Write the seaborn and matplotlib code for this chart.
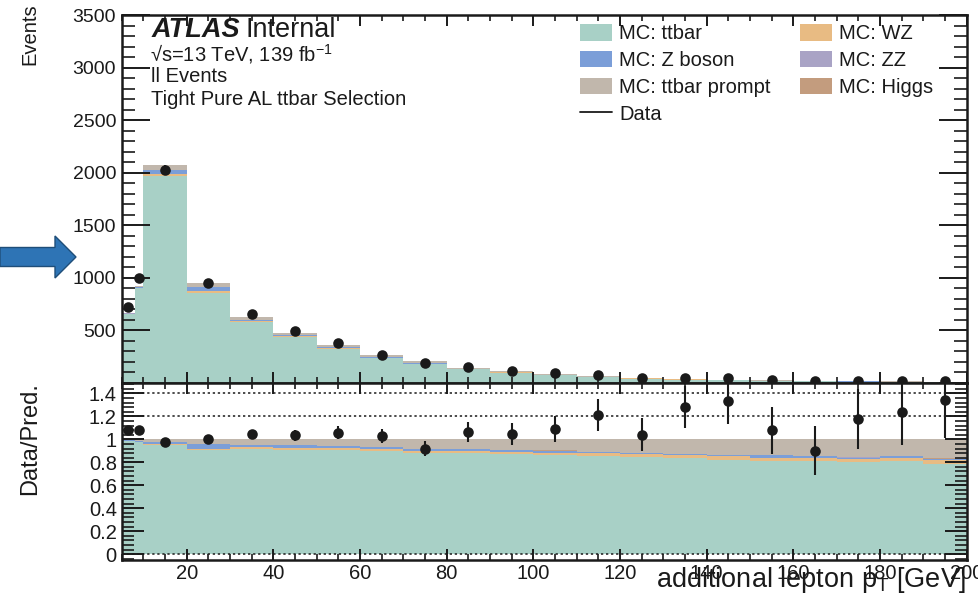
import numpy as np
import pandas as pd
import matplotlib
matplotlib.use("Agg")
import matplotlib.pyplot as plt
import seaborn as sns
from matplotlib.patches import Patch, FancyArrow
from matplotlib.lines import Line2D
from matplotlib.ticker import MultipleLocator, FuncFormatter

# ---------------- data ----------------
bin_edges = [5, 8, 10, 20, 30, 40, 50, 60, 70, 80, 90, 100,
             110, 120, 130, 140, 150, 160, 170, 180, 190, 200]
data_counts = [720, 1000, 2030, 948, 660, 497, 381, 270, 190, 155, 118,
               96, 80, 52, 50, 44, 28, 18, 20, 18, 16]
mc_total = [667, 926, 2075, 948, 632, 480, 360, 262, 207, 146, 113,
            88, 66, 50, 39, 33, 26, 20, 17, 14.5, 11.9]
# fractional composition of the MC prediction (ratio panel)
frac_ttbar = [0.983, 0.975, 0.951, 0.904, 0.913, 0.907, 0.907, 0.900, 0.878, 0.884, 0.875,
              0.867, 0.855, 0.850, 0.835, 0.820, 0.815, 0.810, 0.800, 0.810, 0.785]
frac_wz = [0.002, 0.003, 0.006, 0.015, 0.017, 0.017, 0.017, 0.017, 0.017, 0.017, 0.015,
           0.017, 0.023, 0.023, 0.026, 0.032, 0.023, 0.029, 0.029, 0.029, 0.035]
frac_zboson = [0.006, 0.010, 0.020, 0.040, 0.018, 0.024, 0.018, 0.017, 0.023, 0.017, 0.017,
               0.017, 0.012, 0.006, 0.012, 0.012, 0.023, 0.017, 0.012, 0.012, 0.012]
frac_zz = [0.0005, 0.0005, 0.0005, 0.001, 0.001, 0.001, 0.001, 0.001, 0.001, 0.001, 0.001,
           0.001, 0.001, 0.001, 0.001, 0.001, 0.001, 0.001, 0.001, 0.001, 0.001]
frac_higgs = [0.0005, 0.0005, 0.0005, 0.001, 0.001, 0.001, 0.001, 0.001, 0.001, 0.001, 0.001,
              0.001, 0.001, 0.001, 0.001, 0.001, 0.001, 0.001, 0.001, 0.001, 0.001]
frac_prompt = [0.008, 0.011, 0.022, 0.039, 0.050, 0.050, 0.056, 0.064, 0.080, 0.080, 0.091,
               0.097, 0.108, 0.119, 0.125, 0.134, 0.137, 0.142, 0.157, 0.147, 0.166]

process_names = ["MC: ttbar", "MC: WZ", "MC: Z boson", "MC: ZZ", "MC: Higgs", "MC: ttbar prompt"]
process_colors = ["#a8d0c6", "#e8bb83", "#7b9ed8", "#a9a3c5", "#c39c7e", "#c1b7ac"]
process_fracs = [frac_ttbar, frac_wz, frac_zboson, frac_zz, frac_higgs, frac_prompt]

legend_order = ["MC: ttbar", "MC: Z boson", "MC: ttbar prompt", "Data",
                "MC: WZ", "MC: ZZ", "MC: Higgs"]

# ---------------- style ----------------
sns.set_theme(style="ticks")
plt.rcParams["font.family"] = ["Liberation Sans", "DejaVu Sans"]
plt.rcParams["mathtext.fontset"] = "custom"
plt.rcParams["mathtext.rm"] = "Liberation Sans"
plt.rcParams["mathtext.it"] = "Liberation Sans:italic"
plt.rcParams["mathtext.bf"] = "Liberation Sans:bold"
plt.rcParams["axes.linewidth"] = 1.8
TXT = "#1a1a1a"

W, H = 979, 601
fig = plt.figure(figsize=(W / 100, H / 100), dpi=100)
fig.patch.set_facecolor("white")


def fx(px):
    return px / W


def fy(py):
    return 1 - py / H


x0, x1 = 121.7, 966.5
ax = fig.add_axes([fx(x0), fy(383), fx(x1) - fx(x0), fy(15) - fy(383)])
rax = fig.add_axes([fx(x0), fy(560), fx(x1) - fx(x0), fy(383) - fy(560)])

edges = np.array(bin_edges, dtype=float)
centers = 0.5 * (edges[1:] + edges[:-1])
mc = np.array(mc_total, dtype=float)
data = np.array(data_counts, dtype=float)

# cumulative stacks (bottom -> top), drawn top -> bottom so they overlay
cum = np.zeros(len(centers))
layers = []
for name, fr, col in zip(process_names, process_fracs, process_colors):
    cum = cum + np.array(fr)
    layers.append((name, cum.copy(), col))

for name, cfrac, col in reversed(layers):
    df_main = pd.DataFrame({"pt": centers, "w": cfrac * mc})
    sns.histplot(data=df_main, x="pt", weights="w", bins=list(bin_edges), element="step",
                 fill=True, color=col, alpha=1, linewidth=0, ax=ax)
    df_rat = pd.DataFrame({"pt": centers, "w": cfrac})
    sns.histplot(data=df_rat, x="pt", weights="w", bins=list(bin_edges), element="step",
                 fill=True, color=col, alpha=1, linewidth=0, ax=rax)

# data points
ax.errorbar(centers, data, yerr=np.sqrt(data), fmt="none", ecolor="k",
            elinewidth=1.5, capsize=0, zorder=5)
sns.scatterplot(x=centers, y=data, color="k", s=58, linewidth=0, ax=ax, zorder=6)

ratio = data / mc
rerr = np.sqrt(data) / mc
for yv in [0.0, 1.2, 1.4]:
    rax.axhline(yv, color="k", lw=1.1, ls=(0, (1.5, 1.8)), zorder=2)
rax.errorbar(centers, ratio, yerr=rerr, fmt="none", ecolor="k",
             elinewidth=1.5, capsize=0, zorder=5)
sns.scatterplot(x=centers, y=ratio, color="k", s=58, linewidth=0, ax=rax, zorder=6)

# ---------------- axes formatting ----------------
for a in (ax, rax):
    a.set_xlim(5, 200)
    a.set_xlabel("")
    a.set_ylabel("")
    a.set_axisbelow(False)
    for s in a.spines.values():
        s.set_visible(True)
        s.set_linewidth(1.8)
        s.set_color("k")
    a.xaxis.set_major_locator(MultipleLocator(20))
    a.xaxis.set_minor_locator(MultipleLocator(5))
    a.tick_params(axis="both", which="both", direction="in", top=True, right=True,
                  colors="k", labelcolor=TXT)
    a.tick_params(axis="x", which="major", length=8, width=1.4)
    a.tick_params(axis="x", which="minor", length=4, width=1.2)

ax.set_ylim(0, 3500)
ax.yaxis.set_major_locator(MultipleLocator(500))
ax.yaxis.set_minor_locator(MultipleLocator(100))
ax.yaxis.set_major_formatter(FuncFormatter(lambda v, p: "" if abs(v) < 1e-6 else f"{v:.0f}"))
ax.tick_params(axis="y", which="major", length=20, width=1.4, labelsize=14, pad=4)
ax.tick_params(axis="y", which="minor", length=9.5, width=1.2)
ax.tick_params(axis="x", labelbottom=False)

rax.set_ylim(-0.05, 1.49)
rax.yaxis.set_major_locator(MultipleLocator(0.2))
rax.yaxis.set_minor_locator(MultipleLocator(0.04))
rax.yaxis.set_major_formatter(FuncFormatter(lambda v, p: f"{round(v, 2):g}"))
rax.tick_params(axis="y", which="major", length=16, width=1.4, labelsize=14.5, pad=3.5)
rax.tick_params(axis="y", which="minor", length=8.5, width=1.2)
rax.tick_params(axis="x", labelsize=14.5, pad=3)

# ---------------- labels & annotations ----------------
fig.text(fx(30), fy(3), "Events", rotation=90, ha="center", va="top",
         fontsize=14.5, color=TXT)
fig.text(fx(30), fy(439), "Data/Pred.", rotation=90, ha="center", va="center",
         fontsize=17, color=TXT)
fig.text(fx(966), fy(587), r"additional lepton $\mathrm{p}_{\mathrm{T}}$ [GeV]",
         ha="right", va="baseline", fontsize=19.5, color=TXT)

fig.text(fx(152), fy(37), "ATLAS", fontsize=19.5, fontweight="bold", fontstyle="italic",
         ha="left", va="baseline", color="k")
fig.text(fx(246), fy(37), "Internal", fontsize=19.5, ha="left", va="baseline", color=TXT)
fig.text(fx(150), fy(61), "\u221As=13 TeV, 139 fb$^{-1}$", fontsize=14.5,
         ha="left", va="baseline", color=TXT)
fig.text(fx(151), fy(82), "ll Events", fontsize=14.5, ha="left", va="baseline", color=TXT)
fig.text(fx(151), fy(105), "Tight Pure AL ttbar Selection", fontsize=14.5,
         ha="left", va="baseline", color=TXT)

# legend
handle_map = {n: Patch(facecolor=c, edgecolor="none") for n, c in zip(process_names, process_colors)}
handle_map["Data"] = Line2D([], [], color="k", lw=1.3)
fig.legend([handle_map[n] for n in legend_order], legend_order, ncol=2,
           loc="upper left", bbox_to_anchor=(fx(580), fy(24)), frameon=False,
           fontsize=14.5, handlelength=1.6, handleheight=0.9, handletextpad=0.35,
           labelspacing=0.37, columnspacing=1.45, borderpad=0, borderaxespad=0,
           labelcolor=TXT)

# blue arrow on the left margin
arrow = FancyArrow(fx(0), fy(257), fx(76), 0, width=19 / H, head_width=42 / H,
                   head_length=fx(21), length_includes_head=True,
                   transform=fig.transFigure, facecolor="#2e74b5",
                   edgecolor="#1f4e79", linewidth=1.0)
fig.add_artist(arrow)

fig.savefig("out.png", dpi=100)
